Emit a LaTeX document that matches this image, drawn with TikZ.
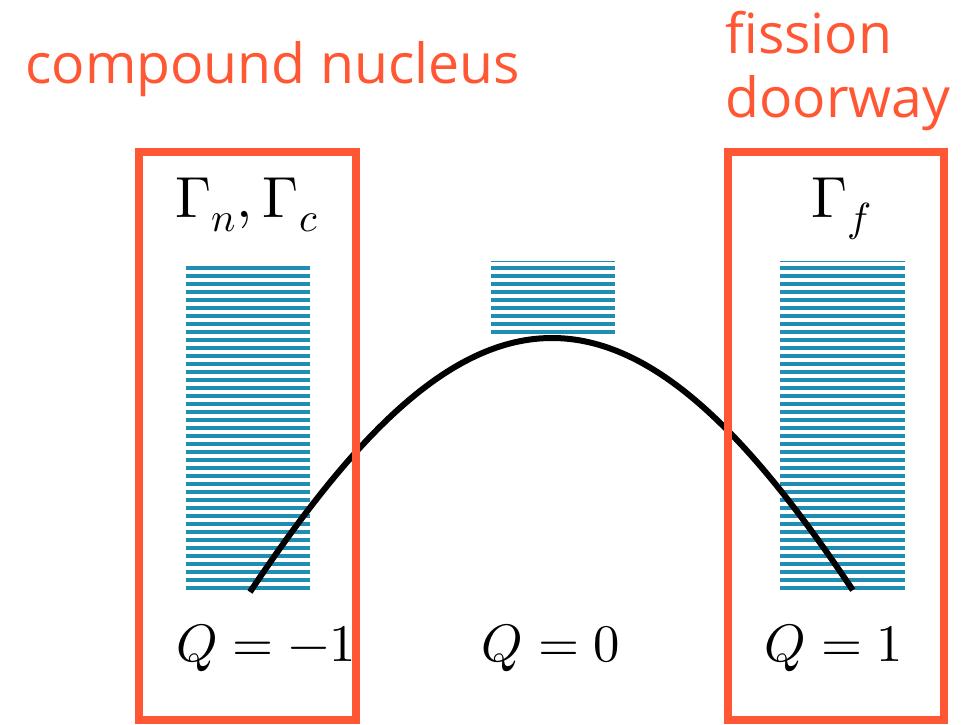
\documentclass[tikz,border=0pt]{standalone}
\usepackage{fontspec}
\usepackage{unicode-math}
\setsansfont{Open Sans}
\setmathfont{Latin Modern Math}
\definecolor{boxred}{RGB}{255,87,51}
\definecolor{stripeblue}{RGB}{31,142,177}
\begin{document}
\begin{tikzpicture}[x=0.02cm,y=-0.02cm,
  frame/.style={draw=boxred,line width=0.16cm},
  stripe/.style={fill=stripeblue},
  title/.style={text=boxred,font=\sffamily\fontsize{31.5}{40}\selectfont,inner sep=0pt,anchor=base west},
  gam/.style={font=\fontsize{33}{40}\selectfont,inner sep=0pt,anchor=base},
  qlab/.style={font=\fontsize{30}{36}\selectfont,inner sep=0pt,anchor=base},
  barrier/.style={line width=0.12cm,black}]
\useasboundingbox (0,0) rectangle (963,724);
% stripes
\foreach \k in {0,...,40}{
  \fill[stripe] (186,{266+8*\k}) rectangle (310,{270+8*\k});
  \fill[stripe] (780,{266+8*\k}) rectangle (905,{270+8*\k});
}
\foreach \k in {0,...,8}{
  \fill[stripe] (491,{266+8*\k}) rectangle (615,{270+8*\k});
}
\fill[stripe] (491,260.5) rectangle (615,262);
\fill[stripe] (780,260.5) rectangle (905,262);
% barrier curve
\draw[barrier] plot[variable=\t,domain=-1:0.997,samples=121,smooth] ({552+302*\t},{338+254*(0.5*\t*\t+0.5*(1-cos(90*\t)))});
% boxes
\draw[frame] (139,152) rectangle (356,720);
\draw[frame] (727.5,152) rectangle (944,720);
% titles
\node[title] (cn) at (25,83) {compound nucleus};
\node[title] (fi) at (725,53) {fission};
\node[title] (dw) at (725,117) {doorway};
% widths
\node[gam] (gnc) at (247,217) {$\Gamma_n,\Gamma_c$};
\node[gam] (gf) at (842,217) {$\Gamma_f$};
% Q labels
\node[qlab] (q1) at (266,661) {$Q=-1$};
\node[qlab] (q0) at (551,661) {$Q=0$};
\node[qlab] (q2) at (834,661) {$Q=1$};
\end{tikzpicture}
\end{document}
